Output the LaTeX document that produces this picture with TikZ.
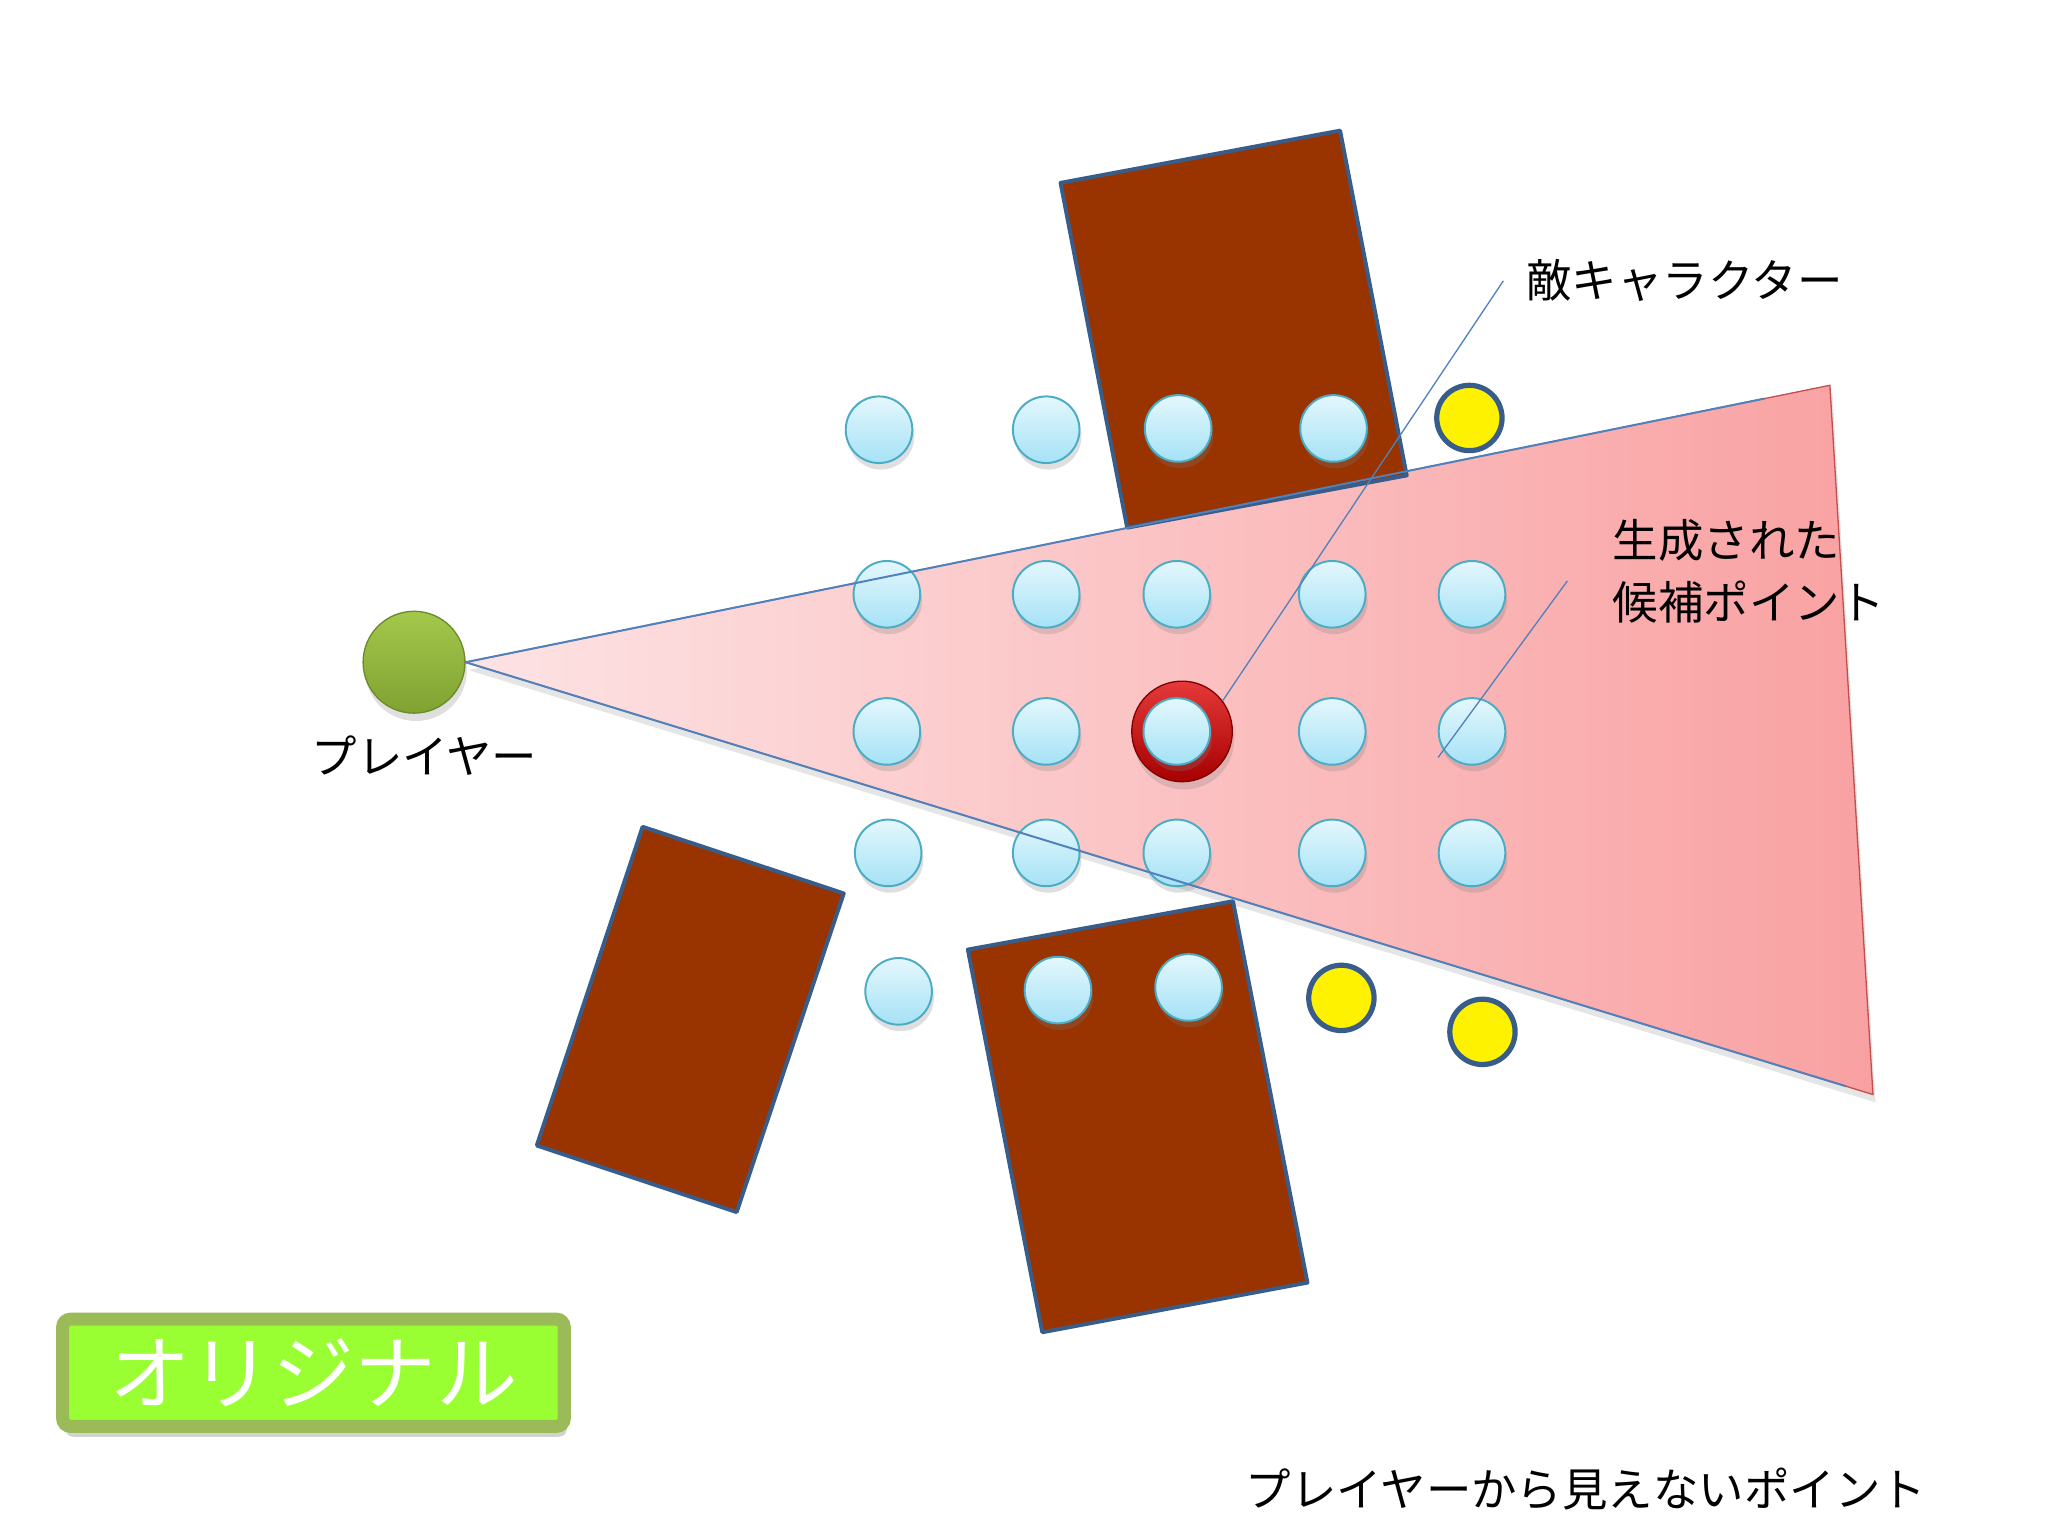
\documentclass[tikz,border=0pt]{standalone}
\usepackage{fontspec}
\setmainfont{Noto Sans CJK JP}
\usetikzlibrary{positioning, calc, shadows}

\definecolor{wallbrown}{HTML}{993300}
\definecolor{wallblue}{HTML}{385D8A}
\definecolor{sightblue}{HTML}{4F81BD}
\definecolor{coneedge}{HTML}{C0504D}
\definecolor{conenear}{HTML}{FDE3E4}
\definecolor{conefar}{HTML}{F9A1A2}
\definecolor{pointedge}{HTML}{4BACC6}
\definecolor{pointtop}{HTML}{E4F7FD}
\definecolor{pointbottom}{HTML}{A5E2F6}
\definecolor{playertop}{HTML}{A3C84A}
\definecolor{playerbottom}{HTML}{7FA232}
\definecolor{playeredge}{HTML}{6B8A2A}
\definecolor{tagfill}{HTML}{99FF33}
\definecolor{tagedge}{HTML}{9BBB59}

\begin{document}
\begin{tikzpicture}[
    x=0.1mm, y=-0.1mm,
    cone/.style={left color=conenear, right color=conefar, draw=coneedge,
                 line width=0.1mm,
                 drop shadow={opacity=0.2, shadow xshift=0.2mm, shadow yshift=-0.6mm}},
    sight/.style={draw=sightblue, line width=0.15mm},
    wall/.style={fill=wallbrown, draw=wallblue, line width=0.3mm, line join=round},
    cand/.style={circle, minimum size=5.1mm, inner sep=0pt, draw=pointedge,
                 line width=0.15mm, top color=pointtop, bottom color=pointbottom,
                 drop shadow={opacity=0.25, shadow xshift=0.15mm, shadow yshift=-0.5mm}},
    unseen/.style={circle, minimum size=5mm, inner sep=0pt, fill=yellow,
                   draw=wallblue, line width=0.4mm},
    player/.style={circle, minimum size=7.8mm, inner sep=0pt, draw=playeredge,
                   line width=0.1mm, top color=playertop, bottom color=playerbottom,
                   drop shadow={opacity=0.25, shadow xshift=0.15mm, shadow yshift=-0.6mm}},
    enemy/.style={circle, minimum size=7.7mm, inner sep=0pt, draw=red!50!black,
                  line width=0.1mm, top color=red!75!white!90!black, bottom color=red!65!black,
                  drop shadow={opacity=0.25, shadow xshift=0.15mm, shadow yshift=-0.6mm}},
    caption/.style={inner sep=0pt, font=\fontsize{9.9}{13.4}\selectfont},
    callout/.style={draw=sightblue, line width=0.1mm},
    tag/.style={rectangle, fill=tagfill, draw=tagedge, line width=1mm, rounded corners=0.6mm,
                minimum width=38.4mm, minimum height=8.2mm, text=white,
                font=\fontsize{17.8}{20}\selectfont,
                drop shadow={opacity=0.35, shadow xshift=0.2mm, shadow yshift=-0.8mm}}
]

\useasboundingbox (0,0) rectangle (1568,1176);
\fill[white] (0,0) rectangle (1568,1176);

% Player and view cone
\node[player] (player) at (317,507) {};
\coordinate (farup) at (1401,295);
\coordinate (fardown) at (1434,838);
\path[cone] (player.east) -- (farup) -- (fardown) -- cycle;

% Obstacles
\path[wall] (812,140) -- (1026,100) -- (1077,364) -- (863,404) -- cycle;
\path[wall] (492,633) -- (646,684) -- (564,928) -- (411,877) -- cycle;
\path[wall] (741,727) -- (944,690) -- (1001,982) -- (798,1020) -- cycle;

% Enemy
\node[enemy] (enemy) at (905,560) {};

% Candidate points
\foreach \px/\py [count=\i] in {673/329, 801/329, 902/328, 1021/328,
    679/455, 801/455, 901/455, 1020/455, 1127/455,
    679/560, 801/560, 901/560, 1020/560, 1127/560,
    680/653, 801/653, 901/653, 1020/653, 1127/653,
    688/759, 810/758, 910/756}
  \node[cand] (p\i) at (\px,\py) {};

% Points the player cannot see
\node[unseen] (u1) at (1125,320) {};
\node[unseen] (u2) at (1027,764) {};
\node[unseen] (u3) at (1135,790) {};

% Lines of sight
\draw[sight] (player.east) -- ($(player.east)!0.952!(farup)$);
\draw[sight] (player.east) -- ($(player.east)!0.981!(fardown)$);

% Labels
\node[caption, below=1.6mm of player, xshift=0.8mm] (playerlabel) {プレイヤー};
\node[caption, anchor=west, inner xsep=1.7mm] (enemylabel) at (1151,215) {敵キャラクター};
\node[caption, anchor=north west, align=left] (candlabel) at (1234,397) {生成された\\候補ポイント};
\node[caption, anchor=west] (unseenlabel) at (953,1140) {プレイヤーから見えないポイント};
\coordinate (candtip) at (1101,580);

\draw[callout] (enemylabel.west) -- (enemy.37);
\draw[callout] ([xshift=-3.4mm, yshift=-0.75mm]candlabel.west) -- (candtip);

% Tag
\node[tag] (original) at (240,1051) {オリジナル};

\end{tikzpicture}
\end{document}
